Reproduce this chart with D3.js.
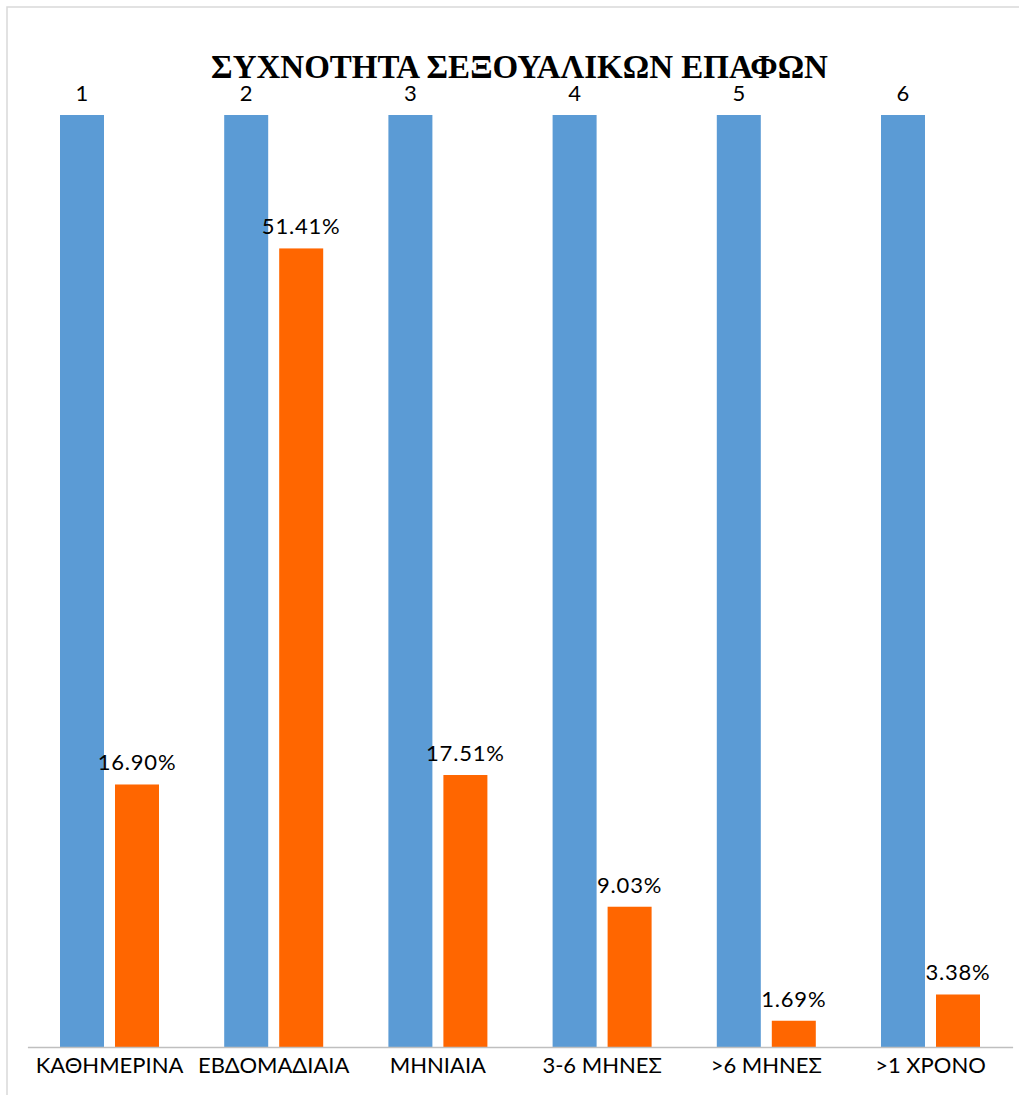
<!DOCTYPE html>
<html>
<head>
<meta charset="utf-8">
<script src="https://d3js.org/d3.v7.min.js"></script>
<style>
  html, body { margin: 0; padding: 0; background: #fff; }
  svg { display: block; }
</style>
</head>
<body>
<div id="chart"></div>
<script>
// Frequency of sexual contacts: category index (blue) and share of respondents (orange)
const categories = ["ΚΑΘΗΜΕΡΙΝΑ", "ΕΒΔΟΜΑΔΙΑΙΑ", "ΜΗΝΙΑΙΑ", "3-6 ΜΗΝΕΣ", ">6 ΜΗΝΕΣ", ">1 ΧΡΟΝΟ"];
const indexValues = [1, 2, 3, 4, 5, 6];
const shareValues = [0.1690, 0.5141, 0.1751, 0.0903, 0.0169, 0.0338];
const shareLabels = ["16.90%", "51.41%", "17.51%", "9.03%", "1.69%", "3.38%"];
const title = "ΣΥΧΝΟΤΗΤΑ ΣΕΞΟΥΑΛΙΚΩΝ ΕΠΑΦΩΝ";

const W = 1019, H = 1095;
const plot = { left: 27.4, right: 1012.6, top: 115, bottom: 1047 };
const labelFont = "Lato, 'Open Sans', sans-serif";

const svg = d3.select("#chart").append("svg")
  .attr("width", W).attr("height", H);

// chart frame
svg.append("rect")
  .attr("x", 7).attr("y", 7)
  .attr("width", W + 20).attr("height", H + 20)
  .attr("fill", "#fff").attr("stroke", "#d9d9d9").attr("stroke-width", 1.5);

const x = d3.scaleBand()
  .domain(categories)
  .range([plot.left, plot.right])
  .paddingInner(0).paddingOuter(0);

const y = d3.scaleLinear()
  .domain([0, 0.6])
  .range([plot.bottom, plot.top])
  .clamp(true);

const barW = 44, barGap = 11, groupW = 2 * barW + barGap;
const groupOffset = (x.bandwidth() - groupW) / 2;

const rows = categories.map((c, i) => ({
  cat: c, index: indexValues[i], share: shareValues[i], label: shareLabels[i]
}));

const g = svg.append("g");

// blue series (runs past the axis maximum, so it is clipped at the top)
g.selectAll("rect.index").data(rows).join("rect")
  .attr("class", "index")
  .attr("x", d => x(d.cat) + groupOffset)
  .attr("width", barW)
  .attr("y", d => y(d.index))
  .attr("height", d => y(0) - y(d.index))
  .attr("fill", "#5b9bd5");

g.selectAll("text.index").data(rows).join("text")
  .attr("class", "index")
  .attr("x", d => x(d.cat) + groupOffset + barW / 2)
  .attr("y", d => y(d.index) - 14)
  .attr("text-anchor", "middle")
  .attr("font-family", labelFont)
  .attr("font-size", 22)
  .attr("fill", "#000")
  .text(d => d.index);

// orange series
g.selectAll("rect.share").data(rows).join("rect")
  .attr("class", "share")
  .attr("x", d => x(d.cat) + groupOffset + barW + barGap)
  .attr("width", barW)
  .attr("y", d => y(d.share))
  .attr("height", d => y(0) - y(d.share))
  .attr("fill", "#ff6600");

g.selectAll("text.share").data(rows).join("text")
  .attr("class", "share")
  .attr("x", d => x(d.cat) + groupOffset + barW + barGap + barW / 2)
  .attr("y", d => y(d.share) - 14)
  .attr("text-anchor", "middle")
  .attr("font-family", labelFont)
  .attr("font-size", 22)
  .attr("letter-spacing", "0.8px")
  .attr("fill", "#000")
  .text(d => d.label);

// category axis
const axis = svg.append("g")
  .attr("transform", `translate(0,${plot.bottom})`)
  .call(d3.axisBottom(x).tickSize(0).tickPadding(0));
axis.select(".domain").attr("stroke", "#bfbfbf").attr("stroke-width", 1.5);
axis.selectAll("text")
  .attr("font-family", labelFont)
  .attr("font-size", 22)
  .attr("fill", "#000")
  .attr("dy", null)
  .attr("y", 26);

// title
svg.append("text")
  .attr("x", 519.5).attr("y", 78)
  .attr("text-anchor", "middle")
  .attr("font-family", "'Liberation Serif', 'Times New Roman', serif")
  .attr("font-weight", "bold")
  .attr("font-size", 33)
  .attr("fill", "#000")
  .text(title);
</script>
</body>
</html>
